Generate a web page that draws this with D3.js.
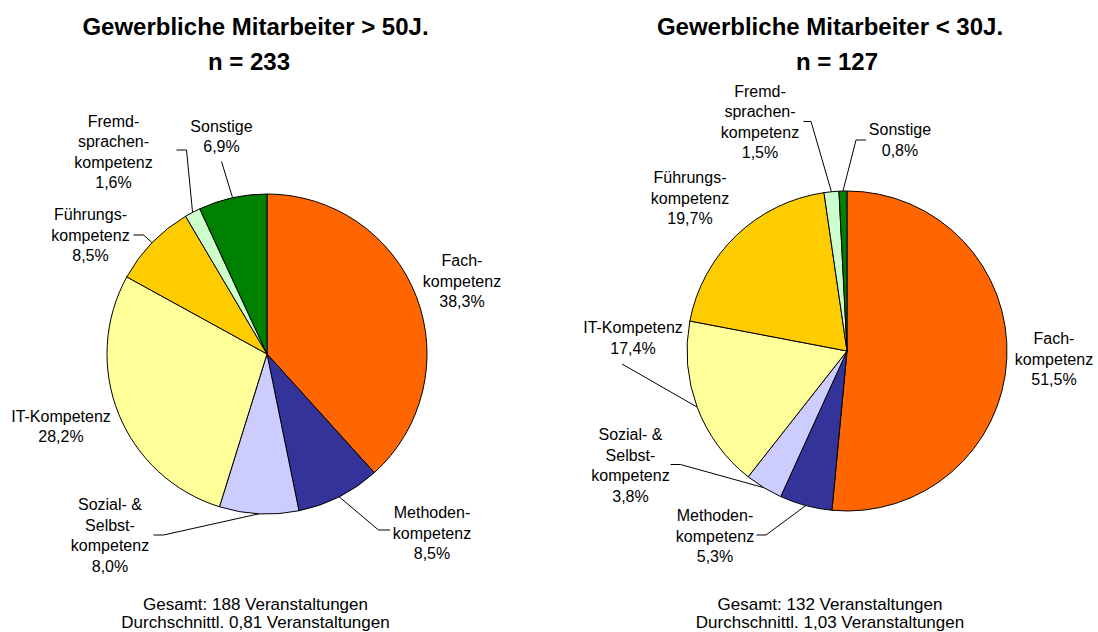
<!DOCTYPE html>
<html>
<head>
<meta charset="utf-8">
<script src="https://cdn.jsdelivr.net/npm/d3@7"></script>
<style>
  html, body { margin: 0; padding: 0; background: #fff; }
  svg { display: block; font-family: "Liberation Sans", Arial, Helvetica, sans-serif; }
</style>
</head>
<body>
<svg id="chart" width="1098" height="632"></svg>
<script>
// Kompetenzbereiche (Reihenfolge im Uhrzeigersinn ab 12 Uhr)
const categories = [
  "Fachkompetenz", "Methodenkompetenz", "Sozial- & Selbstkompetenz",
  "IT-Kompetenz", "Führungskompetenz", "Fremdsprachenkompetenz", "Sonstige"
];
// Umbrochene Beschriftungszeilen je Kategorie
const labelLines = [
  ["Fach-", "kompetenz"],
  ["Methoden-", "kompetenz"],
  ["Sozial- &", "Selbst-", "kompetenz"],
  ["IT-Kompetenz"],
  ["Führungs-", "kompetenz"],
  ["Fremd-", "sprachen-", "kompetenz"],
  ["Sonstige"]
];
// Anteile in Prozent
const valuesOver50 = [38.3, 8.5, 8.0, 28.2, 8.5, 1.6, 6.9];
const valuesUnder30 = [51.5, 5.3, 3.8, 17.4, 19.7, 1.5, 0.8];
const colors = ["#FF6600", "#333399", "#CCCCFF", "#FFFF99", "#FFCC00", "#CCFFCC", "#008000"];

const titles = ["Gewerbliche Mitarbeiter > 50J.", "Gewerbliche Mitarbeiter < 30J."];
const sampleSizes = ["n = 233", "n = 127"];
const footnotes = [
  ["Gesamt: 188 Veranstaltungen", "Durchschnittl. 0,81 Veranstaltungen"],
  ["Gesamt: 132 Veranstaltungen", "Durchschnittl. 1,03 Veranstaltungen"]
];

// Layout der beiden Diagramme
const charts = [
  {
    values: valuesOver50, cx: 267, cy: 354, r: 160,
    titleX: 255.5, nX: 249, footX: 255.5,
    labels: [
      { x: 462, y: 266, leader: null },
      { x: 432, y: 518, leader: [[390, 530], [378.5, 530]] },
      { x: 110, y: 510, leader: [[153.5, 535], [163.5, 535]] },
      { x: 61,  y: 421.5, leader: null },
      { x: 90.5, y: 220, leader: [[133.5, 235], [143.5, 235]] },
      { x: 113.5, y: 126.5, leader: [[176.5, 150], [186.5, 150]] },
      { x: 221.5, y: 131.5, leader: [[221.5, 161.5]] }
    ]
  },
  {
    values: valuesUnder30, cx: 847, cy: 351, r: 160,
    titleX: 830, nX: 837, footX: 830,
    labels: [
      { x: 1054, y: 344, leader: null },
      { x: 715, y: 521, leader: [[756.5, 535], [766, 535]] },
      { x: 630.5, y: 440, leader: [[670.5, 464.5], [680.5, 464.5]] },
      { x: 633, y: 333, leader: [[622, 364]] },
      { x: 690, y: 183, leader: null },
      { x: 760, y: 96.5, leader: [[803.5, 121.5], [811, 121.5]] },
      { x: 900, y: 135, leader: [[866, 140], [856, 140]] }
    ]
  }
];

const svg = d3.select("#chart");
const fmt = v => d3.format(".1f")(v).replace(".", ",") + "%";
const lineH = 20.5;

charts.forEach((c, ci) => {
  // Titel
  svg.append("text")
    .attr("x", c.titleX).attr("y", 35)
    .attr("text-anchor", "middle")
    .attr("font-size", 24).attr("font-weight", "bold")
    .text(titles[ci]);
  svg.append("text")
    .attr("x", c.nX).attr("y", 70)
    .attr("text-anchor", "middle")
    .attr("font-size", 24).attr("font-weight", "bold")
    .text(sampleSizes[ci]);

  const pie = d3.pie().sort(null).value(d => d)(c.values);
  const arc = d3.arc().innerRadius(0).outerRadius(c.r);
  const g = svg.append("g").attr("transform", `translate(${c.cx},${c.cy})`);

  g.selectAll("path")
    .data(pie)
    .join("path")
    .attr("d", arc)
    .attr("fill", (d, i) => colors[i])
    .attr("stroke", "#000")
    .attr("stroke-width", 1)
    .attr("stroke-linejoin", "round");

  // Führungslinien: vom Beschriftungsrand zur Bogenmitte des Segments
  pie.forEach((d, i) => {
    const L = c.labels[i];
    if (!L.leader) return;
    const a = (d.startAngle + d.endAngle) / 2;
    const end = [c.cx + c.r * Math.sin(a), c.cy - c.r * Math.cos(a)];
    const pts = L.leader.concat([end]);
    svg.append("path")
      .attr("d", d3.line()(pts))
      .attr("fill", "none")
      .attr("stroke", "#000")
      .attr("stroke-width", 1);
  });

  // Beschriftungen
  pie.forEach((d, i) => {
    const L = c.labels[i];
    const lines = labelLines[i].concat([fmt(d.data)]);
    const t = svg.append("text")
      .attr("text-anchor", "middle")
      .attr("font-size", 16)
      .attr("fill", "#000");
    lines.forEach((s, k) => {
      t.append("tspan").attr("x", L.x).attr("y", L.y + k * lineH).text(s);
    });
  });

  // Fußnote
  footnotes[ci].forEach((s, k) => {
    svg.append("text")
      .attr("x", c.footX).attr("y", 610 + k * 18)
      .attr("text-anchor", "middle")
      .attr("font-size", 17)
      .text(s);
  });
});
</script>
</body>
</html>
